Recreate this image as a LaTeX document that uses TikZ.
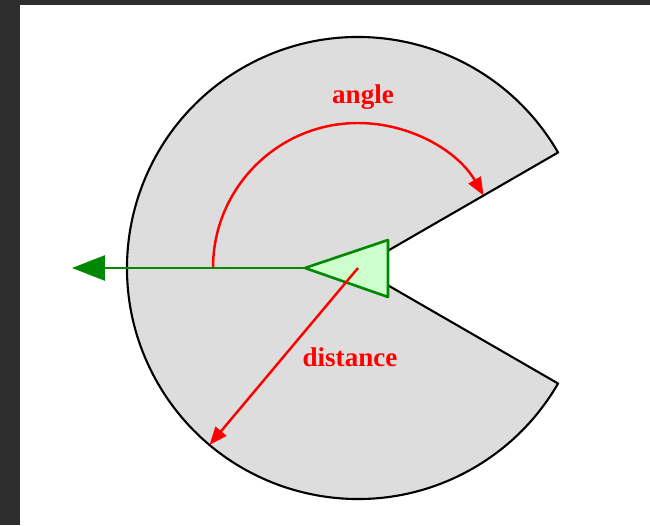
\documentclass[tikz,border=0pt]{standalone}
\usepackage{fontspec}
\setmainfont{Liberation Serif}
\usetikzlibrary{arrows.meta,calc}
\definecolor{sectorgray}{HTML}{DDDDDD}
\definecolor{darkgreen}{HTML}{008800}
\definecolor{lightgreen}{HTML}{CCFFCC}
\definecolor{frame}{HTML}{2E2E2E}
\tikzset{
  lbl/.style={text=red, font=\fontsize{15.4}{18}\selectfont\bfseries},
  redarrow/.style={draw=red, line width=1.4pt, -{Triangle[length=0.36cm, width=0.28cm]}}
}
\begin{document}
\begin{tikzpicture}[x=0.02cm, y=0.02cm]
\useasboundingbox (0,0) rectangle (650,525);
\fill[frame] (0,0) rectangle (650,525);
\fill[white] (20,0) rectangle (650,520);
\coordinate (C) at (358,257);
\coordinate (T) at (305,257);
\coordinate (U) at (388,285);
\coordinate (L) at (388,228);
\coordinate (G) at (72,257);
\coordinate (A) at ($(C)+(180:145)$);
\coordinate (D) at ($(C)+(230:231)$);
\draw[fill=sectorgray, line width=1.2pt, line join=round] (C) -- ++(30:231) arc[start angle=30, end angle=330, radius=231] -- cycle;
\node (angle) [lbl] at (363,428) {angle};
\node (dist) [lbl] at (350,168) {distance};
\draw[redarrow] (A) arc[start angle=180, end angle=30, radius=145];
\draw[darkgreen, line width=1.5pt, -{Triangle[length=0.66cm, width=0.5cm]}] (T) -- (G);
\draw[darkgreen, fill=lightgreen, line width=1.5pt, line join=round] (T) -- (U) -- (L) -- cycle;
\draw[redarrow] (C) -- (D);
\end{tikzpicture}
\end{document}
